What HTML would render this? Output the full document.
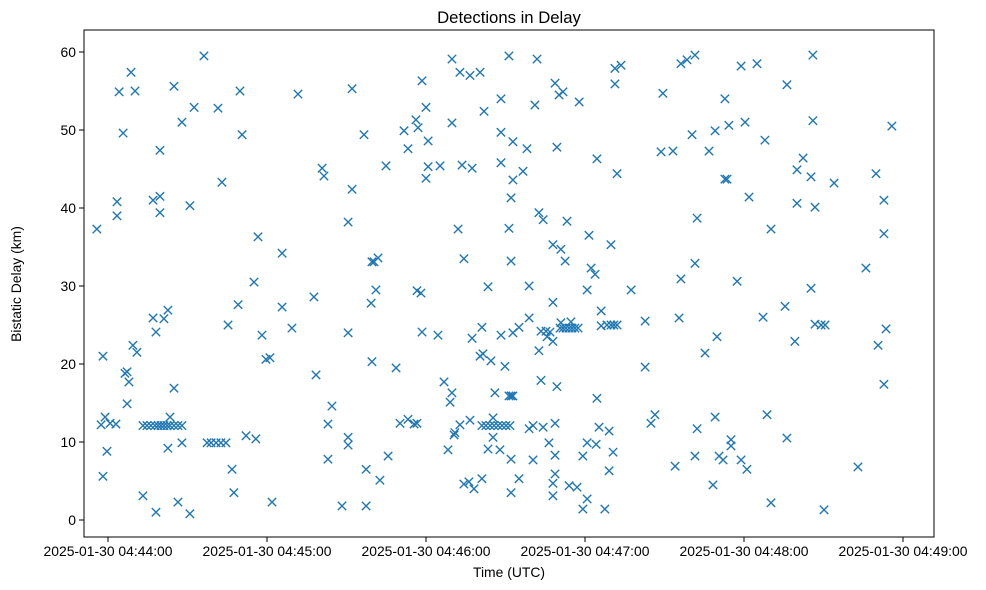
<!DOCTYPE html>
<html><head><meta charset="utf-8"><style>
html,body{margin:0;padding:0;background:#fff;}
svg{display:block;font-family:"Liberation Sans","DejaVu Sans",sans-serif;}
</style></head><body>
<svg id="chart" width="986" height="590" viewBox="0 0 986 590" xmlns="http://www.w3.org/2000/svg">
<rect x="0" y="0" width="986" height="590" fill="#fff"/>
<text x="509" y="23" text-anchor="middle" font-size="16.7" fill="#000">Detections in Delay</text>
<text x="509" y="577" text-anchor="middle" font-size="13.9" fill="#000">Time (UTC)</text>
<text transform="translate(21,284) rotate(-90)" text-anchor="middle" font-size="13.9" fill="#000">Bistatic Delay (km)</text>
<g id="marks"></g>
<g id="axes"></g>
</svg>
<script>
// seconds after 2025-01-30 04:44:00 UTC
const times = [36.2,8.7,4.2,10.2,24.9,49.8,71.7,92.1,32.5,41.5,27.9,5.7,50.6,96.6,19.6,80.8,81.5,43.0,92.1,3.4,3.4,17.0,19.6,19.6,30.9,-4.2,56.6,65.7,90.6,99.6,55.1,
49.1,65.7,77.7,99.3,17.0,21.1,22.6,18.1,45.3,58.1,69.4,90.6,9.4,10.9,-1.9,59.6,61.1,99.6,6.4,7.2,7.9,24.9,78.5,7.2,84.5,-1.1,-2.6,0.8,3.0,
13.2,14.7,16.2,17.7,18.9,20.0,21.1,22.3,23.4,24.9,26.4,27.9,23.4,83.0,22.6,27.9,37.4,38.9,40.8,42.6,44.5,52.1,55.8,-0.4,-1.9,46.8,90.6,90.6,83.0,97.4,47.5,13.2,26.4,18.1,30.9,61.9,88.3,97.4,
129.8,151.3,161.9,132.8,136.6,140.4,118.5,191.3,193.6,168.7,191.3,170.2,171.7,148.3,120.0,161.1,177.8,141.9,116.2,117.0,111.7,129.8,148.3,120.8,152.8,158.1,169.4,113.2,104.9,120.8,125.3,133.6,137.4,148.3,156.6,120.0,152.8,184.5,192.1,152.1,162.6,164.2,173.2,132.1,151.3,181.5,167.9,170.9,189.8,100.4,101.9,134.3,152.1,172.5,182.3,183.8,
101.1,116.6,118.1,143.4,158.9,180.8,197.4,167.9,186.1,158.9,202.7,118.5,124.5,137.4,141.1,148.3,152.8,155.1,163.4,165.3,166.8,165.7,167.9,170.6,171.7,172.8,174.0,175.1,176.2,177.4,170.9,174.7,186.1,188.3,189.8,190.9,192.1,
162.6,140.4,141.5,144.5,149.8,108.7,202.7,126.8,163.4,169.4,129.8,129.1,146.0,151.3,152.1,152.8,184.5,206.4,204.9,110.2,113.2,115.5,116.6,132.8,136.6,130.6,130.9,141.1,142.6,144.2,145.7,147.2,148.7,150.2,151.7,145.3,145.3,158.9,160.4,164.2,168.7,185.3,189.1,
166.4,180.8,184.2,128.3,143.4,147.9,168.7,179.2,190.6,105.7,152.1,160.4,189.1,102.6,168.7,167.9,155.1,141.1,134.3,136.2,138.1,174.0,177.0,152.1,167.9,180.8,179.2,187.5,
216.2,218.5,221.5,238.9,244.9,266.0,256.2,209.4,232.8,266.0,234.3,240.4,229.1,220.4,295.8,247.9,208.7,213.2,226.8,262.3,260.0,265.3,274.0,289.8,232.8,233.6,241.9,260.0,266.8,292.8,222.3,250.2,292.8,221.5,216.2,237.4,286.0,265.3,
255.5,215.5,247.2,266.8,269.1,270.6,293.6,229.8,259.2,225.3,290.6,292.8,229.1,248.7,222.3,235.1,235.1,256.2,221.5,230.6,232.1,238.9,241.1,214.0,283.0,228.3,250.2,270.2];
const delays = [59.5,57.4,54.9,55.0,55.6,55.0,54.6,55.3,52.9,52.8,51.0,49.6,49.4,49.4,47.4,45.1,44.1,43.3,42.4,40.8,39.0,41.0,41.5,39.4,40.3,37.3,36.3,34.2,38.2,33.1,30.5,
27.6,27.3,28.6,27.8,25.9,25.8,26.9,24.1,25.0,23.7,24.6,24.0,22.4,21.5,21.0,20.6,20.8,20.3,18.8,19.0,17.7,16.9,18.6,14.9,14.6,13.2,12.2,12.4,12.3,
12.1,12.1,12.1,12.1,12.1,12.1,12.1,12.1,12.1,12.1,12.1,12.1,13.2,12.3,9.2,9.9,9.9,9.9,9.9,9.9,9.9,10.8,10.4,8.8,5.6,6.5,10.6,9.6,7.8,6.5,3.5,3.1,2.3,1.0,0.8,2.3,1.8,1.8,
59.1,59.5,59.1,57.4,57.0,57.4,56.3,57.9,58.3,56.0,55.9,54.5,54.9,54.0,52.9,53.2,53.6,52.4,51.3,50.3,49.9,50.9,49.7,48.6,48.5,47.6,47.8,47.6,45.4,45.3,45.4,45.5,45.1,45.8,44.7,43.8,43.6,46.3,44.4,41.3,39.4,38.5,38.3,37.3,37.4,36.5,35.3,34.7,35.3,33.1,33.6,33.5,33.2,33.2,32.3,31.5,
29.5,29.4,29.1,29.9,30.0,29.5,29.5,27.9,26.8,25.9,25.5,24.1,23.7,23.3,24.7,23.7,24.0,24.7,24.2,24.2,24.1,23.5,22.9,24.6,24.6,24.6,24.6,24.6,24.6,24.6,25.3,25.4,24.9,25.0,25.0,25.0,25.0,
21.7,21.0,21.3,20.4,19.7,19.5,19.6,17.7,17.9,17.1,16.3,15.1,16.3,15.9,15.9,15.9,15.6,13.5,12.4,12.4,12.9,12.3,12.4,12.2,12.8,10.9,11.2,12.1,12.1,12.1,12.1,12.1,12.1,12.1,12.1,13.1,10.6,11.7,12.1,11.9,12.4,11.9,11.4,
9.9,9.9,9.7,9.0,9.1,9.0,8.3,8.2,8.7,8.2,7.8,7.7,6.3,5.1,5.9,4.7,5.3,5.3,4.6,4.9,4.0,4.4,4.2,3.5,3.1,2.7,1.4,1.4,
58.5,59.0,59.6,58.2,58.5,59.6,55.8,54.7,54.0,51.2,50.6,51.0,49.9,49.4,50.5,48.7,47.2,47.3,47.3,46.4,44.9,44.0,43.2,44.4,43.7,43.7,41.4,40.6,40.1,41.0,38.7,37.3,36.7,32.9,30.9,30.6,32.3,29.7,
27.4,25.9,26.0,25.1,25.0,25.0,24.5,23.5,22.9,21.4,22.4,17.4,13.2,13.5,11.7,10.3,9.5,10.5,8.2,8.2,7.7,7.7,6.5,6.9,6.8,4.5,2.2,1.3];
const xTickVals = [0,60,120,180,240,300];
const xTickLabels = ["2025-01-30 04:44:00","2025-01-30 04:45:00","2025-01-30 04:46:00","2025-01-30 04:47:00","2025-01-30 04:48:00","2025-01-30 04:49:00"];
const yTickVals = [0,10,20,30,40,50,60];

const L=84,R=934,T=30,B=537;
const xMin=-9.06,xMax=311.7,yMin=-2.18,yMax=62.82;
function sx(t){return L+(t-xMin)/(xMax-xMin)*(R-L);}
function sy(d){return B-(d-yMin)/(yMax-yMin)*(B-T);}
const NS="http://www.w3.org/2000/svg";
function mk(tag,attrs,parent){const e=document.createElementNS(NS,tag);for(const k in attrs)e.setAttribute(k,attrs[k]);parent.appendChild(e);return e;}
const marks=document.getElementById('marks');
const axes=document.getElementById('axes');
const n=Math.min(times.length,delays.length);
for(let i=0;i<n;i++){
  const x=sx(times[i]),y=sy(delays[i]),r=4.2;
  const p=mk('path',{d:`M${x-r},${y-r}L${x+r},${y+r}M${x-r},${y+r}L${x+r},${y-r}`,stroke:'#1f77b4','stroke-width':1.4,fill:'none'},marks);
  
  
}
const frame=mk('rect',{x:L,y:T,width:R-L,height:B-T,fill:'none',stroke:'#000','stroke-width':1},axes);


xTickVals.forEach((v,i)=>{
  const x=sx(v);
  const tk=mk('line',{x1:x,y1:B,x2:x,y2:B+5,stroke:'#000','stroke-width':1},axes);
  
  
  const tl=mk('text',{x:x,y:B+19,'text-anchor':'middle','font-size':13.9,fill:'#000'},axes);
  tl.textContent=xTickLabels[i];
  
  
});
yTickVals.forEach(v=>{
  const y=sy(v);
  const tk=mk('line',{x1:L-5,y1:y,x2:L,y2:y,stroke:'#000','stroke-width':1},axes);
  
  
  const tl=mk('text',{x:L-8,y:y+5,'text-anchor':'end','font-size':13.9,fill:'#000'},axes);
  tl.textContent=String(v);
  
  
});
</script>
</body></html>
